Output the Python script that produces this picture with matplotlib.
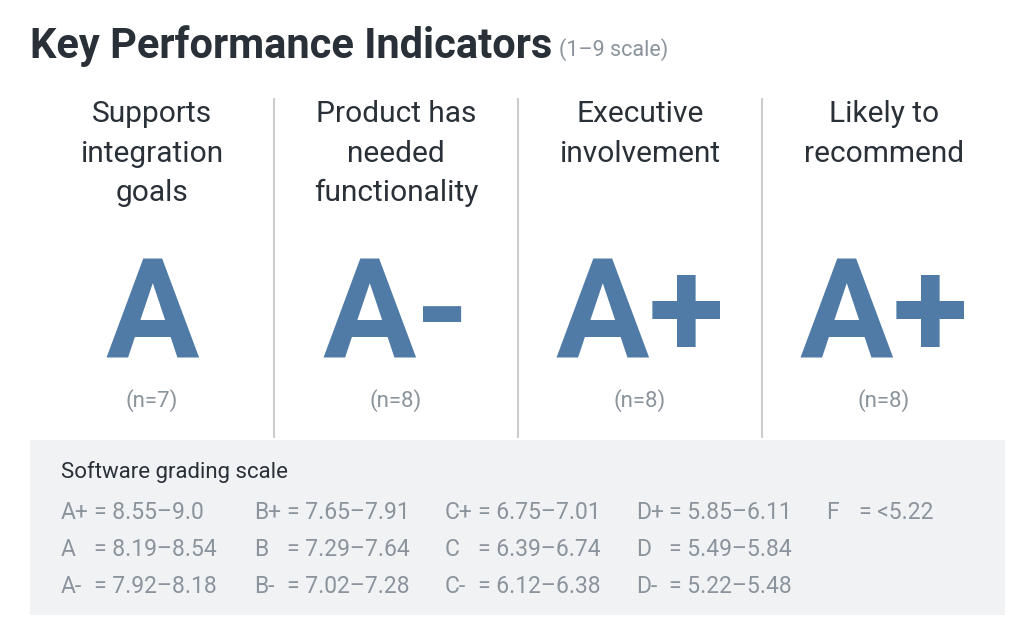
import matplotlib.pyplot as plt
from matplotlib.patches import Rectangle

# %% data
kpis = ['Supports\nintegration\ngoals', 'Product has\nneeded\nfunctionality',
        'Executive\ninvolvement', 'Likely to\nrecommend']
grades = ['A', 'A-', 'A+', 'A+']
counts = [7, 8, 8, 8]

scale_grades = [['A+', 'A', 'A-'], ['B+', 'B', 'B-'], ['C+', 'C', 'C-'],
                ['D+', 'D', 'D-'], ['F']]
scale_ranges = [['8.55\u20139.0', '8.19\u20138.54', '7.92\u20138.18'],
                ['7.65\u20137.91', '7.29\u20137.64', '7.02\u20137.28'],
                ['6.75\u20137.01', '6.39\u20136.74', '6.12\u20136.38'],
                ['5.85\u20136.11', '5.49\u20135.84', '5.22\u20135.48'],
                ['<5.22']]

# %% style
dark = '#2a3038'
grey = '#8b939c'
blue = '#4f7ba6'
plt.rcParams['font.family'] = ['Roboto', 'DejaVu Sans']

W, H = 1032, 643
fig = plt.figure(figsize=(W / 100, H / 100), dpi=100)
ax = fig.add_axes([0, 0, 1, 1])
ax.set_xlim(0, W)
ax.set_ylim(H, 0)
ax.axis('off')

# title
t = ax.text(30, 58, 'Key Performance Indicators', fontsize=30,
            fontweight='bold', color=dark, va='baseline', ha='left')
fig.canvas.draw()
bb = t.get_window_extent().transformed(ax.transData.inverted())
ax.text(bb.x1 + 7, 56, '(1\u20139 scale)', fontsize=15.5, color=grey,
        va='baseline', ha='left')

# KPI columns
col_left, col_w = 30, 244
for i, (kpi, g, n) in enumerate(zip(kpis, grades, counts)):
    cx = col_left + col_w * i + col_w / 2
    for j, line in enumerate(kpi.split('\n')):
        ax.text(cx, 122 + 39.5 * j, line, fontsize=21.5, color=dark,
                ha='center', va='baseline')
    ax.text(cx, 357, g, fontsize=100, fontweight='bold', color=blue,
            ha='center', va='baseline')
    ax.text(cx, 407, f'(n={n})', fontsize=16, color=grey,
            ha='center', va='baseline')
    if i > 0:
        ax.plot([col_left + col_w * i] * 2, [98, 438], color='#cbcdd0',
                lw=1.5, solid_capstyle='butt')

# grading scale box
ax.add_patch(Rectangle((30, 440), 975, 175, facecolor='#f1f2f4',
                       edgecolor='none'))
ax.text(61, 478, 'Software grading scale', fontsize=16, color=dark,
        ha='left', va='baseline')
col_x = [61, 254, 445, 636, 826]
for x, gl, rl in zip(col_x, scale_grades, scale_ranges):
    for k, (g, r) in enumerate(zip(gl, rl)):
        y = 519 + 37 * k
        ax.text(x, y, g, fontsize=16.5, color=grey, ha='left', va='baseline')
        ax.text(x + 33, y, '= ' + r, fontsize=16.5, color=grey,
                ha='left', va='baseline')

fig.savefig('out.png', dpi=100, facecolor='white')
